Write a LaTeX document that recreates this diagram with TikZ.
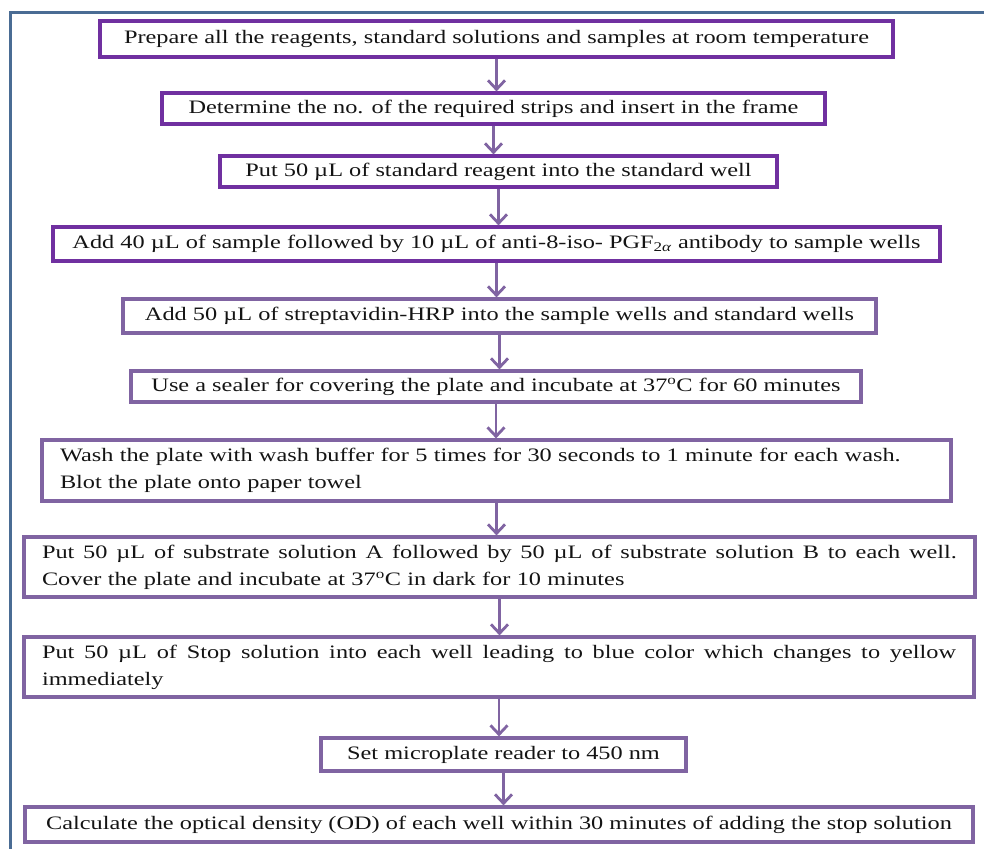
\documentclass[tikz,border=0pt]{standalone}
\usepackage{fontspec}
\setmainfont{Liberation Serif}[FakeStretch=1.28]
\usetikzlibrary{arrows.meta}
\definecolor{framecol}{HTML}{4A6C94}
\definecolor{pstrong}{HTML}{7030A0}
\definecolor{psoft}{HTML}{8064A2}
\definecolor{txt}{HTML}{141414}
\newcommand{\spreadline}[2]{\makebox[#1][s]{\spaceskip=0.25em plus 1fil\relax #2}}
\begin{document}
\begin{tikzpicture}[x=1pt,y=-1pt,
  box/.style={draw=psoft, line width=3.2pt, inner sep=0pt, text=txt,
    font=\fontsize{19}{27}\selectfont, align=center},
  strongbox/.style={box, draw=pstrong},
  arr/.style={draw=psoft, line width=2.6pt,
    -{Straight Barb[length=9pt,width=17pt,line width=2.8pt]}}]
\useasboundingbox (0,0) rectangle (984,848);
\draw[framecol, line width=3pt] (10,849) -- (10,13) -- (985,13);

\node[strongbox, minimum width=793pt, minimum height=36pt] (b1) at (496.5,39)
  {Prepare all the reagents, standard solutions and samples at room temperature};
\node[strongbox, minimum width=663pt, minimum height=31pt] (b2) at (493.5,108.5)
  {Determine the no. of the required strips and insert in the frame};
\node[strongbox, minimum width=557pt, minimum height=31pt] (b3) at (498.5,171.5)
  {Put 50 µL of standard reagent into the standard well};
\node[strongbox, minimum width=887pt, minimum height=34pt] (b4) at (496.5,244)
  {Add 40 µL of sample followed by 10 µL of anti-8-iso- PGF\textsubscript{2\textit{α}} antibody to sample wells};
\node[box, minimum width=753pt, minimum height=34pt] (b5) at (499.5,316)
  {Add 50 µL of streptavidin-HRP into the sample wells and standard wells};
\node[box, minimum width=730pt, minimum height=31pt] (b6) at (496,386.5)
  {Use a sealer for covering the plate and incubate at 37\textsuperscript{o}C for 60 minutes};
\node[box, minimum width=909pt, minimum height=61pt, text width=873pt, align=left] (b7) at (496.5,470.5)
  {Wash the plate with wash buffer for 5 times for 30 seconds to 1 minute for each wash.\\
   Blot the plate onto paper towel};
\node[box, minimum width=951pt, minimum height=60pt, text width=915pt, align=left] (b8) at (499.5,567)
  {\spreadline{915pt}{Put 50 µL of substrate solution A followed by 50 µL of substrate solution B to each well.}\\
   Cover the plate and incubate at 37\textsuperscript{o}C in dark for 10 minutes};
\node[box, minimum width=950pt, minimum height=60pt, text width=914pt, align=left] (b9) at (499,667)
  {\spreadline{914pt}{Put 50 µL of Stop solution into each well leading to blue color which changes to yellow}\\
   immediately};
\node[box, minimum width=365pt, minimum height=33pt] (b10) at (503.5,754.5)
  {Set microplate reader to 450 nm};
\node[box, minimum width=948pt, minimum height=35pt] (b11) at (499,824.5)
  {Calculate the optical density (OD) of each well within 30 minutes of adding the stop solution};

\draw[arr] (b1.south) -- (b1.south |- b2.north);
\draw[arr] (b2.south) -- (b2.south |- b3.north);
\draw[arr] (b3.south) -- (b3.south |- b4.north);
\draw[arr] (b4.south) -- (b4.south |- b5.north);
\draw[arr] (b5.south) -- (b5.south |- b6.north);
\draw[arr] (b6.south) -- (b6.south |- b7.north);
\draw[arr] (b7.south) -- (b7.south |- b8.north);
\draw[arr] (b8.south) -- (b8.south |- b9.north);
\draw[arr] (b9.south) -- (b9.south |- b10.north);
\draw[arr] (b10.south) -- (b10.south |- b11.north);
\end{tikzpicture}
\end{document}
